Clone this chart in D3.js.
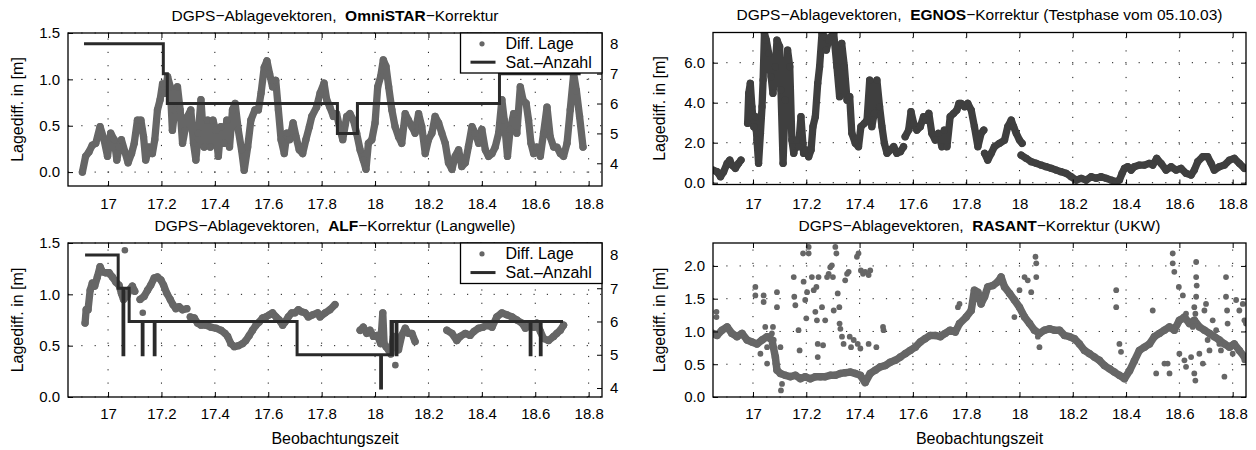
<!DOCTYPE html>
<html><head><meta charset="utf-8">
<script src="https://cdn.jsdelivr.net/npm/d3@7"></script>
<style>
body{margin:0;background:#fff}
svg{display:block}
text{font-family:"Liberation Sans",Arial,Helvetica,sans-serif}
</style>
</head><body><svg id="c" width="1256" height="450"></svg>
<script>
// ---------------- DATA ----------------
const xDomain = [16.85, 18.85];
const xTicks = [17, 17.2, 17.4, 17.6, 17.8, 18, 18.2, 18.4, 18.6, 18.8];
const xTickLabels = ["17","17.2","17.4","17.6","17.8","18","18.2","18.4","18.6","18.8"];
const diffTicksSmall = [0, 0.5, 1, 1.5];
const diffTicksSmallLabels = ["0.0","0.5","1.0","1.5"];
const diffTicksEgnos = [0, 2, 4, 6];
const diffTicksEgnosLabels = ["0.0","2.0","4.0","6.0"];
const diffTicksRasant = [0, 0.5, 1, 1.5, 2];
const diffTicksRasantLabels = ["0.0","0.5","1.0","1.5","2.0"];
const satTicks = [4, 5, 6, 7, 8];
const satTickLabels = ["4","5","6","7","8"];
const legendLabels = ["Diff. Lage", "Sat.\u2013Anzahl"];
const yLabel = "Lagediff. in [m]";
const xLabel = "Beobachtungszeit";

// OmniSTAR: [time, diff]
const omniDiff = [
[16.904,0.00],[16.916,0.17],[16.929,0.22],[16.941,0.29],[16.954,0.31],[16.970,0.49],[16.985,0.35],[16.998,0.17],
[17.010,0.42],[17.023,0.35],[17.033,0.13],[17.041,0.27],[17.050,0.35],[17.063,0.22],[17.075,0.10],[17.088,0.20],
[17.098,0.31],[17.110,0.56],[17.123,0.56],[17.133,0.38],[17.141,0.13],[17.154,0.27],[17.166,0.20],[17.175,0.35],
[17.185,0.67],[17.195,0.78],[17.204,0.95],[17.213,0.85],[17.223,1.03],[17.233,0.92],[17.241,0.45],[17.250,0.67],
[17.260,0.92],[17.270,0.67],[17.279,0.31],[17.288,0.45],[17.298,0.60],[17.310,0.67],[17.320,0.31],[17.329,0.13],
[17.338,0.42],[17.348,0.78],[17.360,0.27],[17.373,0.56],[17.383,0.27],[17.393,0.56],[17.403,0.45],[17.413,0.17],
[17.423,0.49],[17.435,0.31],[17.445,0.56],[17.455,0.27],[17.466,0.67],[17.476,0.74],[17.488,0.45],[17.500,0.24],
[17.510,0.02],[17.523,0.27],[17.535,0.56],[17.550,0.67],[17.563,0.67],[17.573,0.85],[17.585,1.13],[17.595,1.20],
[17.605,1.06],[17.616,0.92],[17.628,0.99],[17.638,0.67],[17.648,0.35],[17.660,0.20],[17.670,0.42],[17.680,0.35],
[17.693,0.53],[17.704,0.38],[17.716,0.24],[17.729,0.20],[17.741,0.35],[17.754,0.49],[17.763,0.60],[17.781,0.70],
[17.794,0.85],[17.809,0.96],[17.819,0.78],[17.831,0.70],[17.844,0.60],[17.856,0.63],[17.869,0.46],[17.879,0.35],
[17.894,0.60],[17.906,0.63],[17.919,0.56],[17.931,0.42],[17.944,0.24],[17.956,0.13],[17.966,0.03],[17.975,0.31],
[17.988,0.35],[18.000,0.53],[18.010,0.92],[18.021,1.03],[18.031,1.21],[18.041,1.14],[18.051,0.92],[18.063,0.67],
[18.075,0.49],[18.088,0.38],[18.100,0.31],[18.113,0.63],[18.125,0.56],[18.138,0.49],[18.150,0.42],[18.163,0.63],
[18.175,0.49],[18.188,0.20],[18.200,0.35],[18.213,0.42],[18.225,0.60],[18.238,0.53],[18.250,0.42],[18.263,0.31],
[18.275,0.10],[18.288,0.03],[18.300,0.17],[18.313,0.24],[18.325,0.06],[18.338,0.10],[18.350,0.28],[18.363,0.49],
[18.375,0.42],[18.388,0.31],[18.400,0.46],[18.413,0.24],[18.425,0.17],[18.438,0.20],[18.450,0.27],[18.463,0.42],
[18.475,0.78],[18.484,0.56],[18.496,0.17],[18.506,0.46],[18.519,0.63],[18.531,0.42],[18.544,0.92],[18.554,0.78],
[18.566,0.74],[18.575,0.56],[18.584,0.31],[18.594,0.20],[18.606,0.27],[18.619,0.17],[18.631,0.42],[18.644,0.70],
[18.656,0.38],[18.669,0.27],[18.681,0.27],[18.694,0.20],[18.706,0.17],[18.719,0.31],[18.731,0.67],[18.744,1.06],
[18.754,0.88],[18.766,0.60],[18.779,0.27]
];
// OmniSTAR satellites: [time, count] (step)
const omniSat = [[16.910,8],[17.207,7],[17.222,6],[17.859,5],[17.934,6],[18.466,7],[18.770,7]];

// EGNOS: [time, diff], null = gap
const egnosDiff = [
[16.850,0.63],[16.865,0.55],[16.878,0.30],[16.890,0.55],[16.903,0.97],[16.913,1.13],[16.921,0.88],[16.934,0.72],
[16.946,0.97],[16.955,1.13],[16.967,null],
[16.980,2.97],[16.984,4.47],[16.990,4.97],[16.996,3.80],[17.003,2.80],[17.009,3.30],[17.015,2.13],[17.021,0.97],
[17.028,2.47],[17.034,3.80],[17.038,5.13],[17.043,7.47],[17.050,7.13],[17.059,6.47],[17.068,5.30],[17.075,4.47],
[17.084,5.80],[17.090,7.13],[17.100,6.80],[17.105,4.63],[17.113,0.97],[17.121,4.13],[17.130,6.63],[17.138,5.80],
[17.146,2.13],[17.153,1.47],[17.163,2.13],[17.171,1.80],[17.180,3.30],[17.190,1.47],[17.200,1.63],[17.209,1.30],
[17.218,1.63],[17.225,2.80],[17.234,3.30],[17.243,4.97],[17.250,5.80],[17.259,7.47],[17.268,7.30],[17.275,6.63],
[17.284,7.13],[17.293,7.30],[17.303,7.47],[17.315,5.80],[17.325,4.30],[17.333,6.97],[17.343,5.80],[17.353,4.13],
[17.363,4.30],[17.371,2.47],[17.384,1.97],[17.396,1.80],[17.405,2.80],[17.418,2.97],[17.428,3.13],[17.438,5.13],
[17.446,2.80],[17.455,3.47],[17.465,5.13],[17.475,3.80],[17.484,2.80],[17.493,1.97],[17.503,1.47],[17.515,1.63],
[17.528,1.80],[17.540,1.47],[17.553,1.55],[17.565,1.80],[17.568,null],
[17.571,2.30],[17.584,2.63],[17.593,3.55],[17.603,2.97],[17.615,2.63],[17.628,2.80],[17.640,3.30],[17.650,3.13],
[17.660,3.47],[17.671,2.47],[17.684,2.13],[17.696,2.47],[17.709,1.80],[17.718,2.63],[17.728,1.80],[17.740,3.30],
[17.753,3.47],[17.765,3.63],[17.773,3.97],[17.781,3.97],[17.794,3.80],[17.806,3.97],[17.819,3.63],[17.831,2.80],
[17.844,1.80],[17.856,2.47],[17.866,2.63],[17.867,null],
[17.869,1.47],[17.881,1.13],[17.894,1.47],[17.906,1.80],[17.925,1.97],[17.944,2.13],[17.956,2.80],[17.969,3.13],
[17.978,2.80],[17.988,2.47],[18.000,2.13],[18.010,1.97],[18.008,null],
[18.006,1.38],[18.025,1.22],[18.044,1.05],[18.063,0.97],[18.081,0.88],[18.100,0.80],[18.119,0.72],[18.138,0.63],
[18.156,0.55],[18.175,0.47],[18.194,0.30],[18.213,0.13],[18.231,0.22],[18.250,0.13],[18.269,0.30],[18.288,0.22],
[18.306,0.30],[18.325,0.22],[18.344,0.13],[18.363,0.05],[18.375,0.13],[18.385,0.47],[18.394,0.72],[18.406,0.80],
[18.419,0.63],[18.431,0.80],[18.450,0.88],[18.469,0.88],[18.488,0.97],[18.500,0.88],[18.515,1.22],[18.531,0.97],
[18.550,0.63],[18.569,0.80],[18.588,0.63],[18.606,0.72],[18.625,0.47],[18.644,0.38],[18.656,0.63],[18.669,1.05],
[18.688,1.30],[18.706,1.30],[18.719,0.97],[18.731,0.63],[18.750,0.80],[18.769,0.88],[18.788,1.13],[18.806,1.22],
[18.825,0.97],[18.844,0.72]
];

// ALF: [time, diff], null = gap
const alfDiff = [
[16.914,0.72],[16.918,0.85],[16.925,0.85],[16.933,1.04],[16.941,1.11],[16.950,1.08],[16.960,1.17],[16.970,1.27],
[16.979,1.22],[16.991,1.21],[17.004,1.21],[17.016,1.17],[17.029,1.12],[17.041,1.09],[17.050,1.01],[17.058,0.95],
[17.070,0.98],[17.079,1.04],[17.091,1.08],[17.100,1.03],[17.110,null],
[17.120,0.95],[17.135,0.98],[17.148,1.04],[17.160,1.09],[17.173,1.16],[17.185,1.17],[17.198,1.14],[17.208,1.09],
[17.220,1.01],[17.233,0.95],[17.243,0.90],[17.254,0.86],[17.266,0.88],[17.279,0.85],[17.295,0.86],[17.301,null],
[17.308,0.78],[17.323,0.77],[17.335,0.72],[17.348,0.70],[17.366,0.70],[17.385,0.68],[17.404,0.67],[17.423,0.65],
[17.438,0.62],[17.448,0.59],[17.460,0.52],[17.473,0.49],[17.488,0.50],[17.504,0.52],[17.516,0.55],[17.529,0.60],
[17.541,0.65],[17.554,0.70],[17.566,0.73],[17.579,0.77],[17.591,0.78],[17.604,0.80],[17.616,0.82],[17.629,0.78],
[17.641,0.75],[17.654,0.70],[17.663,0.73],[17.675,0.78],[17.688,0.82],[17.700,0.82],[17.713,0.85],[17.725,0.83],
[17.738,0.82],[17.750,0.78],[17.766,0.80],[17.785,0.82],[17.794,0.78],[17.813,0.82],[17.831,0.85],[17.850,0.90],
[17.900,null],
[17.944,0.65],[17.956,0.68],[17.969,0.62],[17.981,0.65],[17.994,0.59],[18.009,0.60],[18.021,0.52],[18.029,0.82],
[18.034,0.52],[18.041,0.49],[18.050,0.46],[18.059,0.42],[18.069,0.59],[18.088,0.46],[18.100,0.60],[18.113,0.67],
[18.125,0.62],[18.138,0.62],[18.150,0.54],[18.200,null],
[18.269,0.65],[18.288,0.62],[18.306,0.55],[18.319,0.59],[18.338,0.62],[18.356,0.60],[18.371,0.64],[18.388,0.67],
[18.404,0.68],[18.419,0.70],[18.438,0.68],[18.456,0.78],[18.475,0.82],[18.494,0.80],[18.513,0.78],[18.531,0.75],
[18.550,0.72],[18.563,0.67],[18.581,0.70],[18.594,0.68],[18.606,0.72],[18.619,0.64],[18.631,0.57],[18.650,0.55],
[18.669,0.59],[18.681,0.62],[18.694,0.65],[18.706,0.70]
];
const alfOutliers = [[17.063,1.43],[17.130,0.82],[18.076,0.31]];
// ALF satellites (step)
const alfSat = [[16.914,8],[17.038,7],[17.056,5],[17.059,7],[17.079,6],[17.128,5],[17.131,6],[17.173,5],[17.176,6],
[17.708,5],[18.021,4],[18.024,5],[18.060,6],[18.062,5],[18.065,6],[18.079,5],[18.082,6],[18.581,5],[18.584,6],
[18.619,5],[18.622,6],[18.704,6]];

// RASANT main trace
const rasantDiff = [
[16.850,0.97],[16.865,0.94],[16.884,1.02],[16.903,1.07],[16.921,0.97],[16.940,0.92],[16.959,0.97],[16.978,0.87],
[16.996,0.84],[17.015,0.81],[17.034,0.87],[17.053,0.92],[17.071,0.87],[17.084,0.61],[17.090,0.41],[17.103,0.36],
[17.121,0.33],[17.140,0.31],[17.159,0.33],[17.178,0.28],[17.196,0.31],[17.215,0.28],[17.234,0.31],[17.253,0.31],
[17.271,0.31],[17.290,0.33],[17.309,0.33],[17.328,0.36],[17.346,0.37],[17.365,0.38],[17.384,0.36],[17.403,0.33],
[17.421,0.22],[17.440,0.36],[17.459,0.41],[17.478,0.46],[17.496,0.48],[17.515,0.53],[17.534,0.56],[17.553,0.61],
[17.571,0.66],[17.590,0.71],[17.609,0.76],[17.628,0.84],[17.646,0.89],[17.665,0.94],[17.684,0.94],[17.703,0.92],
[17.721,0.97],[17.740,1.02],[17.759,0.99],[17.775,1.12],[17.800,1.22],[17.819,1.32],[17.831,1.63],[17.844,1.60],
[17.856,1.42],[17.869,1.53],[17.881,1.68],[17.900,1.70],[17.919,1.76],[17.931,1.83],[17.944,1.68],[17.963,1.58],
[17.981,1.48],[18.000,1.37],[18.019,1.22],[18.038,1.12],[18.056,1.02],[18.075,0.97],[18.094,1.02],[18.113,1.04],
[18.131,1.02],[18.150,1.02],[18.169,0.94],[18.188,0.92],[18.206,0.89],[18.225,0.81],[18.244,0.71],[18.263,0.66],
[18.281,0.61],[18.300,0.56],[18.319,0.48],[18.338,0.43],[18.356,0.38],[18.375,0.33],[18.394,0.28],[18.413,0.40],
[18.431,0.55],[18.450,0.71],[18.469,0.76],[18.488,0.81],[18.506,0.92],[18.525,0.97],[18.544,1.02],[18.563,1.07],
[18.581,1.02],[18.600,1.17],[18.619,1.22],[18.638,1.12],[18.656,1.17],[18.675,1.07],[18.694,1.02],[18.713,0.97],
[18.731,0.92],[18.750,0.87],[18.769,0.81],[18.788,0.76],[18.806,0.81],[18.825,0.71],[18.844,0.61]
];
// RASANT scattered points
const rasantOutliers = [
[16.863,1.30],[16.863,1.22],[17.009,1.68],[17.009,1.55],[17.028,0.66],[17.040,1.55],[17.040,1.45],[17.046,1.07],
[17.053,0.51],[17.053,0.76],[17.071,0.97],[17.078,0.87],[17.075,1.07],[17.090,1.37],[17.090,1.60],[17.084,0.51],
[17.103,0.76],[17.109,0.20],[17.105,0.10],[17.153,1.83],[17.155,1.53],[17.159,1.40],[17.171,1.02],[17.175,0.71],
[17.188,2.19],[17.190,1.76],[17.196,1.48],[17.200,1.20],[17.203,1.60],[17.209,2.19],[17.209,2.29],[17.221,1.83],
[17.228,1.63],[17.234,1.30],[17.238,1.68],[17.240,1.17],[17.243,0.81],[17.243,0.61],[17.246,1.83],[17.259,1.37],
[17.263,0.79],[17.271,1.17],[17.278,1.83],[17.284,1.88],[17.290,1.98],[17.296,2.01],[17.300,1.83],[17.303,1.32],
[17.309,2.29],[17.313,2.19],[17.318,1.58],[17.324,1.37],[17.325,1.12],[17.328,1.04],[17.334,0.92],[17.340,0.81],
[17.346,1.78],[17.353,1.88],[17.359,1.91],[17.363,0.92],[17.368,0.76],[17.378,0.87],[17.390,2.14],[17.396,2.19],
[17.393,0.81],[17.403,0.74],[17.405,1.93],[17.413,1.88],[17.421,1.91],[17.434,1.86],[17.440,1.93],[17.434,0.81],
[17.463,0.76],[17.488,1.07],[17.490,1.02],[17.769,1.37],[17.775,1.42],[17.981,1.22],[18.000,1.63],[18.019,1.83],
[18.031,1.78],[18.044,1.60],[18.060,2.14],[18.063,2.04],[18.063,1.83],[18.075,0.76],[18.069,0.92],[18.363,1.63],
[18.363,1.37],[18.375,0.81],[18.381,0.69],[18.500,1.32],[18.575,2.19],[18.575,2.04],[18.581,1.91],[18.598,1.68],
[18.613,1.55],[18.625,1.27],[18.663,2.06],[18.663,1.83],[18.665,1.70],[18.663,1.53],[18.656,1.37],[18.660,1.27],
[18.650,1.07],[18.556,0.51],[18.563,0.36],[18.600,0.66],[18.619,0.56],[18.625,0.46],[18.644,0.61],[18.656,0.36],
[18.660,0.25],[18.675,0.66],[18.688,0.51],[18.694,1.32],[18.700,1.42],[18.706,0.87],[18.750,0.81],[18.756,0.71],
[18.769,0.31],[18.775,1.83],[18.775,1.53],[18.779,1.32],[18.781,1.12],[18.800,0.66],[18.813,1.48],[18.825,1.32],
[18.838,1.42],[18.844,1.17],[18.850,1.12],[18.844,0.56],[18.513,0.36],[18.544,0.51],[18.725,1.17],[18.738,1.02],
[18.713,0.71]
];

// ---------------- DRAWING ----------------
const svg = d3.select('#c');
const FONT = '"Liberation Sans", Arial, Helvetica, sans-serif';
const GRAY = '#666666', DARK = '#3f3f3f', SATC = '#2a2a2a';

function drawPanel(cfg) {
  const {id, left, right, top, bottom, yDomain, yTicks, yTickLabels} = cfg;
  const x = d3.scaleLinear().domain(xDomain).range([left, right]);
  const y = d3.scaleLinear().domain(yDomain).range([bottom, top]);
  const g = svg.append('g');
  svg.append('clipPath').attr('id', 'clip' + id).append('rect')
    .attr('x', left).attr('y', top).attr('width', right - left).attr('height', bottom - top);

  // grid
  const grid = g.append('g').attr('stroke', '#1a1a1a').attr('stroke-width', 1)
    .attr('stroke-dasharray', '1.2,12.1').attr('fill', 'none');
  xTicks.forEach(t => grid.append('line').attr('x1', x(t)).attr('x2', x(t)).attr('y1', bottom).attr('y2', top));
  yTicks.forEach(t => grid.append('line').attr('y1', y(t)).attr('y2', y(t)).attr('x1', left).attr('x2', right));

  const plot = g.append('g').attr('clip-path', `url(#clip${id})`);
  const line = d3.line().defined(d => d[1] !== null).x(d => x(d[0])).y(d => y(d[1]));

  (cfg.traces || []).forEach(tr => {
    plot.append('path').datum(tr.data).attr('d', line).attr('fill', 'none')
      .attr('stroke', tr.color).attr('stroke-width', tr.width)
      .attr('stroke-linejoin', 'round').attr('stroke-linecap', 'round');
    plot.append('g').selectAll('circle').data(tr.data.filter(d => d[1] !== null)).join('circle')
      .attr('cx', d => x(d[0])).attr('cy', d => y(d[1])).attr('r', tr.width / 2).attr('fill', tr.color);
  });
  (cfg.scatter || []).forEach(sc => {
    plot.append('g').selectAll('circle').data(sc.data).join('circle')
      .attr('cx', d => x(d[0])).attr('cy', d => y(d[1])).attr('r', sc.r).attr('fill', sc.color);
  });

  let ySat = null;
  if (cfg.sat) {
    ySat = d3.scaleLinear().domain(cfg.satDomain).range([bottom, top]);
    const sline = d3.line().curve(d3.curveStepAfter).x(d => x(d[0])).y(d => ySat(d[1]));
    plot.append('path').datum(cfg.sat).attr('d', sline).attr('fill', 'none')
      .attr('stroke', SATC).attr('stroke-width', 3);
  }

  // axes
  const styleAxis = sel => {
    sel.select('.domain').remove();
    sel.selectAll('line').attr('stroke', '#000');
    sel.selectAll('text').attr('font-family', FONT).attr('font-size', 15).attr('fill', '#000');
  };
  g.append('g').attr('transform', `translate(0,${bottom})`)
    .call(d3.axisBottom(x).tickValues(xTicks).tickFormat((d, i) => xTickLabels[i])
      .tickSizeInner(-5).tickSizeOuter(0).tickPadding(cfg.xPad)).call(styleAxis);
  g.append('g').attr('transform', `translate(0,${top})`)
    .call(d3.axisTop(x).tickValues(xTicks).tickFormat('').tickSizeInner(-5).tickSizeOuter(0)).call(styleAxis);
  g.append('g').attr('transform', `translate(${left},0)`)
    .call(d3.axisLeft(y).tickValues(yTicks).tickFormat((d, i) => yTickLabels[i])
      .tickSizeInner(-5).tickSizeOuter(0).tickPadding(8)).call(styleAxis);
  if (ySat) {
    g.append('g').attr('transform', `translate(${right},0)`)
      .call(d3.axisRight(ySat).tickValues(satTicks).tickFormat((d, i) => satTickLabels[i])
        .tickSizeInner(-5).tickSizeOuter(0).tickPadding(8)).call(styleAxis);
  } else {
    g.append('g').attr('transform', `translate(${right},0)`)
      .call(d3.axisRight(y).tickValues(yTicks).tickFormat('').tickSizeInner(-5).tickSizeOuter(0)).call(styleAxis);
  }

  // box
  g.append('rect').attr('x', left).attr('y', top).attr('width', right - left).attr('height', bottom - top)
    .attr('fill', 'none').attr('stroke', '#000').attr('stroke-width', 1.3);

  // title
  const cx = (left + right) / 2;
  const t = g.append('text').attr('x', cx).attr('y', top - 12.5).attr('text-anchor', 'middle')
    .attr('font-family', FONT).attr('font-size', 15.5).style('white-space', 'pre');
  t.append('tspan').text('DGPS\u2212Ablagevektoren,  ');
  t.append('tspan').attr('font-weight', 'bold').text(cfg.titleBold);
  t.append('tspan').text('\u2212Korrektur' + cfg.titleRest);

  // y label
  g.append('text').attr('transform', `translate(${cfg.yLabelX},${(top + bottom) / 2}) rotate(-90)`)
    .attr('text-anchor', 'middle').attr('font-family', FONT).attr('font-size', 16).text(yLabel);
  if (cfg.xLabel) {
    g.append('text').attr('x', cx).attr('y', bottom + 46.5).attr('text-anchor', 'middle')
      .attr('font-family', FONT).attr('font-size', 16).text(xLabel);
  }

  // legend
  if (cfg.legend) {
    const lx = right - 141.5, ly = top;
    const lg = g.append('g');
    lg.append('rect').attr('x', lx).attr('y', ly).attr('width', right - lx).attr('height', cfg.legendH)
      .attr('fill', '#fff').attr('stroke', '#000').attr('stroke-width', 1.3);
    const r1 = ly + cfg.legendH * 0.27, r2 = ly + cfg.legendH * 0.73;
    lg.append('circle').attr('cx', lx + 21.5).attr('cy', r1).attr('r', 2.6).attr('fill', GRAY);
    lg.append('line').attr('x1', lx + 10).attr('x2', lx + 35).attr('y1', r2).attr('y2', r2)
      .attr('stroke', SATC).attr('stroke-width', 3);
    [r1, r2].forEach((ry, i) => lg.append('text').attr('x', lx + 45).attr('y', ry + 5.5)
      .attr('font-family', FONT).attr('font-size', 16).text(legendLabels[i]));
  }
}

drawPanel({id: 1, left: 68, right: 602, top: 33, bottom: 186, yDomain: [-0.15, 1.5],
  yTicks: diffTicksSmall, yTickLabels: diffTicksSmallLabels, xPad: 12.5,
  traces: [{data: omniDiff, color: GRAY, width: 7.3}],
  sat: omniSat, satDomain: [3.24, 8.36], legend: true, legendH: 40,
  titleBold: 'OmniSTAR', titleRest: '', yLabelX: 22.5});

drawPanel({id: 2, left: 713, right: 1246, top: 32.5, bottom: 184.5, yDomain: [-0.09, 7.51],
  yTicks: diffTicksEgnos, yTickLabels: diffTicksEgnosLabels, xPad: 13.5,
  traces: [{data: egnosDiff, color: DARK, width: 7.3}],
  titleBold: 'EGNOS', titleRest: ' (Testphase vom 05.10.03)', yLabelX: 665});

drawPanel({id: 3, left: 68, right: 602, top: 243, bottom: 397, yDomain: [0, 1.5],
  yTicks: diffTicksSmall, yTickLabels: diffTicksSmallLabels, xPad: 11,
  traces: [{data: alfDiff, color: GRAY, width: 7.3}],
  scatter: [{data: alfOutliers, color: GRAY, r: 3.3}],
  sat: alfSat, satDomain: [3.73, 8.36], legend: true, legendH: 40.5,
  titleBold: 'ALF', titleRest: ' (Langwelle)', yLabelX: 22.5, xLabel: true});

drawPanel({id: 4, left: 713, right: 1246, top: 243, bottom: 397, yDomain: [0, 2.35],
  yTicks: diffTicksRasant, yTickLabels: diffTicksRasantLabels, xPad: 11,
  traces: [{data: rasantDiff, color: GRAY, width: 7.5}],
  scatter: [{data: rasantOutliers, color: GRAY, r: 2.9}],
  titleBold: 'RASANT', titleRest: ' (UKW)', yLabelX: 665, xLabel: true});
</script>
</body></html>
